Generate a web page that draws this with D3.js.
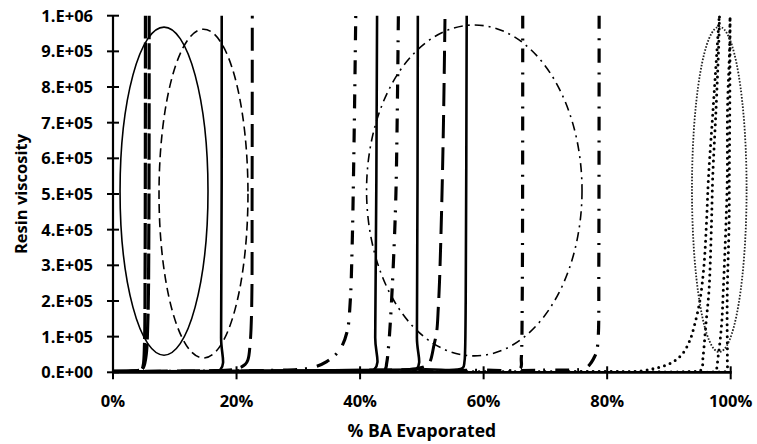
<!DOCTYPE html>
<html>
<head>
<meta charset="utf-8">
<script src="https://cdn.jsdelivr.net/npm/d3@7"></script>
<style>
  html, body { margin: 0; padding: 0; background: #fff; }
  svg { display: block; }
  text { font-family: "Open Sans", "DejaVu Sans", sans-serif; font-weight: bold; fill: #000; }
</style>
</head>
<body>
<div id="chart"></div>
<script>
// Axis ticks
const xTicks = [0, 20, 40, 60, 80, 100];
const yTicks = [0, 1e5, 2e5, 3e5, 4e5, 5e5, 6e5, 7e5, 8e5, 9e5, 1e6];
const xTitle = "% BA Evaporated";
const yTitle = "Resin viscosity";

// Viscosity curves: [% BA evaporated, viscosity]
const thickDashA = [[0,3e3],[3,4e3],[4.6,7e3],[4.9,2e4],[5.1,8e4],[5.2,3e5],[5.25,1e6]];
const thickDashB = [[0,3e3],[4,5e3],[4.8,1e4],[5.3,4e4],[5.65,1.5e5],[5.8,4e5],[5.85,1e6]];
const solid1 = [[0,2e3],[10,3e3],[17.35,7e3],[17.5,1e5],[17.6,1e6]];
const longDash1 = [[0,2e3],[15,4e3],[20,1e4],[21.4,2.2e4],[21.85,3.5e4],[22.2,8e4],[22.45,1.8e5],[22.52,5e5],[22.55,1e6]];
const dashDot1 = [[0,2e3],[25,5e3],[31.9,1.2e4],[34.6,3e4],[36.7,6.3e4],[37.9,1.14e5],[38.4,1.97e5],[38.7,3.43e5],[39.0,6.2e5],[39.3,1e6]];
const solid2 = [[0,2e3],[30,4e3],[42.3,8e3],[42.45,1e5],[42.75,1e6]];
const dashDot2 = [[0,2e3],[35,5e3],[44.0,8e3],[44.3,2.5e4],[44.6,7e4],[45.0,1.7e5],[45.5,3.5e5],[45.8,5e5],[46.0,7e5],[46.2,1e6]];
const solid3 = [[0,2e3],[40,5e3],[49.1,8e3],[49.2,1e5],[49.35,1e6]];
const longDash2 = [[0,3e3],[40,6e3],[49,1e4],[50.7,1.8e4],[51.3,2.9e4],[51.97,7.7e4],[52.4,1.13e5],[52.66,1.8e5],[52.85,2.5e5],[53.2,4.55e5],[53.5,7e5],[53.75,1e6]];
const solid4 = [[0,2e3],[50,8e3],[56.6,1.2e4],[56.9,3e4],[57.0,6e4],[57.1,2e5],[57.26,1e6]];
const dashDot3 = [[0,2e3],[60,6e3],[65.9,1e4],[66.1,4e4],[66.25,2e5],[66.33,1e6]];
const dashDot4 = [[0,2e3],[70,6e3],[76.5,1.2e4],[77.4,2.7e4],[78.0,4.5e4],[78.3,5.8e4],[78.56,1e5],[78.65,3e5],[78.7,1e6]];
const dotted1 = [[0,2e3],[78.8,2.2e3],[85.3,3.6e3],[88.56,1.49e4],[90.66,2.89e4],[92.28,5.41e4],[93.41,9.06e4],[94.22,1.38e5],[95.03,2.03e5],[95.68,3.01e5],[96.08,4.19e5],[96.41,5.48e5],[97.14,7.36e5],[97.78,9.04e5],[98.15,1e6]];
const dotted2 = [[0,1.5e3],[85.3,1.4e3],[93.4,2.2e3],[95.19,6.4e3],[95.52,4.29e4],[96.0,1.38e5],[96.49,2.31e5],[96.89,4.19e5],[97.09,5.48e5],[97.62,7.36e5],[98.03,9.04e5],[98.19,1e6]];
const dotted3 = [[0,1e3],[95.03,1e3],[97.46,3.6e3],[97.95,4.29e4],[98.54,1.38e5],[98.8,2.31e5],[99.24,4.19e5],[99.45,5.48e5],[99.48,7.36e5],[99.81,9.04e5],[99.89,1e6]];
const dotted4 = [[0,1e3],[98.24,1e3],[99.29,3.6e3],[99.45,4.29e4],[99.42,1.38e5],[99.45,2.31e5],[99.74,4.19e5],[99.77,5.48e5],[99.85,7.36e5],[99.9,1e6]];

// Group outlines: centre [%, viscosity] and radii [%, viscosity]
const outlineSolid   = [8.26, 5.08e5, 7.12, 4.6e5];
const outlineDashed  = [14.65, 5.01e5, 7.2, 4.61e5];
const outlineDashDot = [58.49, 5.10e5, 17.44, 4.64e5];
const outlineDotted  = [98.15, 5.13e5, 4.42, 4.56e5];

const W = 757, H = 444;
const margin = { left: 113, right: 26.3, top: 15.7, bottom: 71.7 };

const x = d3.scaleLinear().domain([0, 100]).range([margin.left, W - margin.right]);
const y = d3.scaleLinear().domain([0, 1e6]).range([H - margin.bottom, margin.top]);

const svg = d3.select("#chart").append("svg").attr("width", W).attr("height", H);

svg.append("clipPath").attr("id", "plot")
  .append("rect").attr("x", x(0)).attr("y", y(1e6) - 2)
  .attr("width", x(100) - x(0) + 2).attr("height", y(0) - y(1e6) + 2);

const styles = {
  solid:     { w: 2.6, dash: null, cap: "butt" },
  thickDash: { w: 3.2, dash: "26 4", cap: "butt" },
  longDash:  { w: 3.0, dash: "23 9", cap: "butt" },
  dashDot:   { w: 3.2, dash: "14 8 2 10", cap: "butt" },
  dotted:    { w: 3.0, dash: "0 6", cap: "round" }
};

const seriesList = [
  [thickDashA, "thickDash"], [thickDashB, "thickDash"],
  [solid1, "solid"], [longDash1, "longDash"], [dashDot1, "dashDot"],
  [solid2, "solid"], [dashDot2, "dashDot"], [solid3, "solid"],
  [longDash2, "longDash"], [solid4, "solid"], [dashDot3, "dashDot"],
  [dashDot4, "dashDot"], [dotted1, "dotted"], [dotted2, "dotted"],
  [dotted3, "dotted"], [dotted4, "dotted"]
];

const line = d3.line()
  .x(d => x(d[0])).y(d => y(d[1]))
  .curve(d3.curveCatmullRom.alpha(0.5));

const plot = svg.append("g").attr("clip-path", "url(#plot)");

// Viscosity curves
seriesList.forEach(([data, key]) => {
  const s = styles[key];
  plot.append("path")
    .datum(data)
    .attr("d", line)
    .attr("fill", "none")
    .attr("stroke", "#000")
    .attr("stroke-width", s.w)
    .attr("stroke-linecap", s.cap)
    .attr("stroke-dasharray", s.dash);
});

// Group outlines
const outlines = [
  [outlineSolid,   null,       1.6, "#000"],
  [outlineDashed,  "9 5",      1.6, "#000"],
  [outlineDashDot, "9 5 2 5",  1.6, "#000"],
  [outlineDotted,  "1.6 1.6",  1.8, "#222"]
];
outlines.forEach(([o, dash, w, c]) => {
  svg.append("ellipse")
    .attr("cx", x(o[0])).attr("cy", y(o[1]))
    .attr("rx", x(o[2]) - x(0)).attr("ry", y(0) - y(o[3]))
    .attr("fill", "none")
    .attr("stroke", c)
    .attr("stroke-width", w)
    .attr("stroke-dasharray", dash);
});

// Axes
const axes = svg.append("g");
axes.append("line")
  .attr("x1", x(0)).attr("x2", x(0)).attr("y1", y(1e6)).attr("y2", y(0))
  .attr("stroke", "#000").attr("stroke-width", 2.2);
axes.append("line")
  .attr("x1", x(0) - 1).attr("x2", x(100) + 1).attr("y1", y(0)).attr("y2", y(0))
  .attr("stroke", "#000").attr("stroke-width", 2.8);

const fmtY = v => {
  if (v === 0) return "0.E+00";
  const e = Math.floor(Math.log10(v) + 1e-9);
  const m = Math.round(v / Math.pow(10, e));
  return `${m}.E+${String(e).padStart(2, "0")}`;
};

yTicks.forEach(v => {
  axes.append("line")
    .attr("x1", x(0) - 6).attr("x2", x(0) + 6)
    .attr("y1", y(v)).attr("y2", y(v))
    .attr("stroke", "#000").attr("stroke-width", 2);
  axes.append("text")
    .attr("x", x(0) - 20).attr("y", y(v))
    .attr("dy", "0.36em")
    .attr("text-anchor", "end")
    .attr("font-size", 16.5)
    .text(fmtY(v));
});

xTicks.forEach(v => {
  axes.append("line")
    .attr("x1", x(v)).attr("x2", x(v))
    .attr("y1", y(0) - 6).attr("y2", y(0) + 7)
    .attr("stroke", "#000").attr("stroke-width", 2);
  axes.append("text")
    .attr("x", x(v)).attr("y", y(0) + 35)
    .attr("text-anchor", "middle")
    .attr("font-size", 16.5)
    .text(`${v}%`);
});

svg.append("text")
  .attr("x", (x(0) + x(100)) / 2).attr("y", 437)
  .attr("text-anchor", "middle")
  .attr("font-size", 17.5)
  .text(xTitle);

svg.append("text")
  .attr("transform", `translate(26.7, ${(y(0) + y(1e6)) / 2}) rotate(-90)`)
  .attr("text-anchor", "middle")
  .attr("font-size", 16.5)
  .text(yTitle);
</script>
</body>
</html>
